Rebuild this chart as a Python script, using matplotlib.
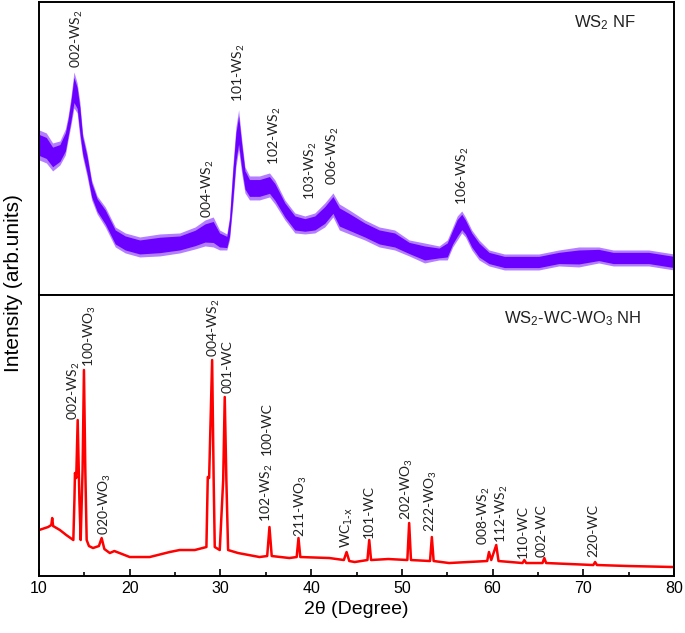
import numpy as np
import matplotlib
matplotlib.use("Agg")
import matplotlib.pyplot as plt
from matplotlib.ticker import MultipleLocator

plt.rcParams['font.family'] = ['Liberation Sans', 'DejaVu Sans']
plt.rcParams['mathtext.default'] = 'regular'

# WS2 NF pattern (top): centre of noisy trace and half-width of noise band
nf_2theta = [10.0, 10.8, 11.5, 12.3, 12.9, 13.2, 13.5, 13.85, 14.2, 14.5, 14.8, 15.3,
             15.8, 16.4, 17.3, 18.4, 19.5, 21.1, 23.3, 25.5, 27.2, 28.3, 29.2, 29.9,
             30.7, 31.0, 31.35, 31.7, 32.0, 32.35, 32.7, 33.2, 34.3, 35.4, 36.0, 37.1,
             38.2, 39.3, 40.4, 41.5, 42.4, 43.1, 44.2, 45.9, 47.5, 49.2, 50.8, 52.5,
             54.1, 55.0, 55.6, 56.1, 56.6, 57.0, 57.7, 58.5, 59.6, 61.3, 62.9, 65.1,
             67.3, 69.5, 71.7, 73.3, 75.0, 77.2, 80.0]
nf_int = [150, 147, 138, 142, 153, 167, 183, 205, 197, 175, 150, 130,
          105, 90, 78, 58, 52, 48, 50, 52, 57, 62, 63, 55,
          53, 67, 108, 148, 165, 138, 115, 107, 107, 110, 103, 85,
          72, 70, 72, 80, 90, 78, 73, 65, 58, 55, 47, 42,
          42, 45, 58, 67, 73, 68, 55, 45, 37, 33, 33, 33,
          37, 38, 40, 37, 37, 37, 33]
nf_noise = [15, 15, 14, 12, 13, 12, 14, 18, 15, 18, 12, 12,
            10, 9, 10, 10, 10, 10, 11, 10, 11, 13, 15, 10,
            8, 12, 20, 20, 20, 17, 13, 12, 12, 12, 12, 10,
            10, 9, 10, 12, 12, 13, 12, 10, 10, 10, 8, 10,
            7, 10, 10, 12, 11, 10, 10, 10, 8, 8, 8, 8,
            8, 10, 8, 8, 8, 8, 8]

# WS2-WC-WO3 NH pattern (bottom)
nh_2theta = [10.0, 11.0, 11.35, 11.45, 11.55, 12.3, 13.0, 13.78, 13.9, 13.96, 14.1,
             14.26, 14.45, 14.59, 14.8, 14.95, 15.1, 15.25, 15.5, 15.95, 16.6, 16.9,
             17.2, 17.8, 18.3, 20.0, 22.2, 24.4, 25.5, 27.17, 28.45, 28.6, 28.75,
             29.08, 29.25, 29.37, 29.92, 30.3, 30.47, 30.65, 30.84, 31.94, 34.3,
             35.15, 35.4, 35.65, 37.6, 38.4, 38.6, 38.8, 42.0, 43.6, 43.9, 44.2,
             44.8, 46.2, 46.4, 46.6, 48.5, 50.6, 50.8, 51.0, 53.1, 53.3, 53.5, 55.2,
             59.4, 59.6, 59.85, 60.4, 60.65, 63.3, 63.5, 63.7, 65.5, 65.7, 65.9,
             71.1, 71.3, 71.5, 75.0, 80.0]
nh_int = [46, 49, 51, 58, 50, 46, 41, 36, 76, 103, 98,
          156, 76, 36, 106, 206, 106, 36, 30, 28, 30, 38,
          27, 23, 25, 19, 19, 24, 26, 26, 29, 99, 98,
          216, 96, 29, 26, 96, 179, 96, 26, 23, 19,
          20, 49, 20, 18, 19, 38, 19, 18, 16, 24, 15,
          14, 16, 36, 16, 17, 16, 53, 16, 15, 39, 15, 13,
          15, 24, 16, 31, 15, 13, 16, 13, 13, 18, 13,
          11, 14, 11, 10, 9]

# peak labels: text, 2theta, height of text foot
nf_labels = [("002-WS$_2$", 14.2, 227), ("004-WS$_2$", 28.6, 77), ("101-WS$_2$", 32.0, 193),
             ("102-WS$_2$", 36.0, 130), ("103-WS$_2$", 40.0, 95), ("006-WS$_2$", 42.4, 110),
             ("106-WS$_2$", 56.7, 90)]
nh_labels = [("002-WS$_2$", 13.85, 156), ("100-WO$_3$", 15.6, 209), ("020-WO$_3$", 17.3, 41),
             ("004-WS$_2$", 29.3, 219), ("001-WC", 30.8, 183), ("100-WC", 35.1, 121),
             ("102-WS$_2$", 35.1, 54), ("211-WO$_3$", 38.9, 39), ("WC$_{\\text{1-x}}$", 43.9, 28),
             ("101-WC", 46.4, 38), ("202-WO$_3$", 50.6, 56), ("222-WO$_3$", 53.2, 44),
             ("008-WS$_2$", 59.1, 31), ("112-WS$_2$", 61.0, 33), ("110-WC", 63.3, 18),
             ("002-WC", 65.4, 19), ("220-WC", 71.1, 19)]

fig = plt.figure(figsize=(6.85, 6.33), dpi=100)
ax1 = fig.add_axes([0.057, 0.534, 0.927, 0.463])
ax2 = fig.add_axes([0.057, 0.090, 0.927, 0.444], sharex=ax1)

purple = '#6a00ff'
x1 = np.array(nf_2theta)
y1 = np.array(nf_int)
n1 = np.array(nf_noise)
# noise band: faint outer envelope, solid core
ax1.fill_between(x1, y1 - n1, y1 + n1, color=purple, lw=0, alpha=0.5)
ax1.fill_between(x1, y1 - 0.7 * n1, y1 + 0.7 * n1, color=purple, lw=0)
ax1.set_ylim(0, 293)

ax2.plot(nh_2theta, nh_int, color='#ff0000', lw=1.8)
ax2.set_ylim(0, 281)

lab_font = ['Lato', 'DejaVu Sans']
for txt, xx, yy in nf_labels:
    ax1.text(xx, yy, txt, rotation=90, ha='center', va='bottom', fontsize=10,
             family=lab_font, color='#222222')
for txt, xx, yy in nh_labels:
    ax2.text(xx, yy, txt, rotation=90, ha='center', va='bottom', fontsize=10,
             family=lab_font, color='#222222')

ax1.text(69.0, 272, "WS$_2$ NF", fontsize=12, ha='left', va='center', color='#222222')
ax2.text(61.3, 257, "WS$_2$-WC-WO$_3$ NH", fontsize=12, ha='left', va='center', color='#222222')

for ax in (ax1, ax2):
    ax.set_xlim(10, 80)
    ax.set_yticks([])
    for s in ax.spines.values():
        s.set_linewidth(1.4)
    ax.xaxis.set_major_locator(MultipleLocator(10))
    ax.xaxis.set_minor_locator(MultipleLocator(5))
    ax.tick_params(axis='x', which='both', direction='in', width=1.2)
    ax.tick_params(axis='x', which='major', length=5, labelsize=11.5)
    ax.tick_params(axis='x', which='minor', length=3)

ax1.tick_params(axis='x', which='both', bottom=False, labelbottom=False)
ax2.set_xlabel("2θ (Degree)", fontsize=14)
fig.text(0.019, 0.553, "Intensity (arb.units)", rotation=90, fontsize=15,
         ha='center', va='center')

fig.savefig("out.png", dpi=100)
